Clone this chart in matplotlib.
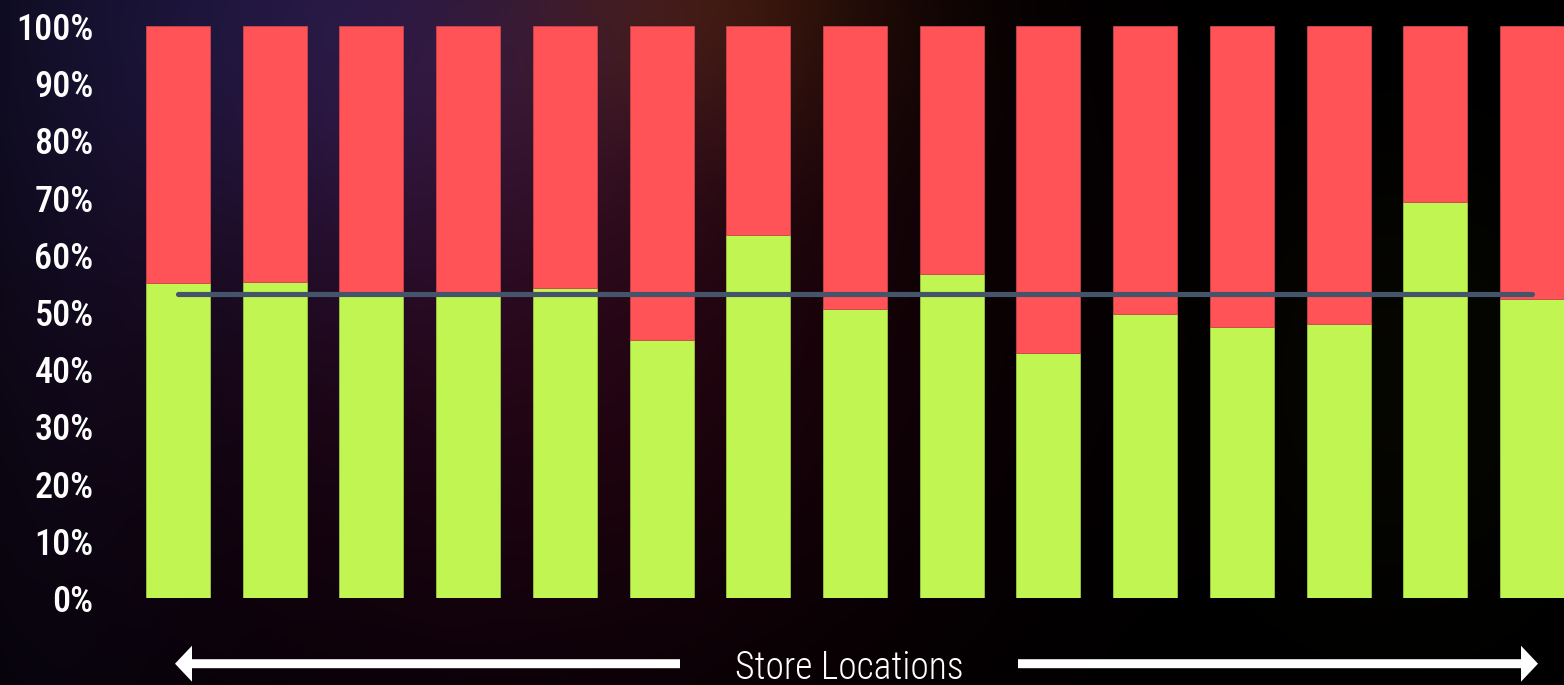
import numpy as np
import matplotlib
matplotlib.use("Agg")
import matplotlib.pyplot as plt
from matplotlib import font_manager as fm
from matplotlib.patches import FancyArrow

# Share of each store location (percent), stacked to 100%
locations = [f"Store {i}" for i in range(1, 16)]
positive = [55.1, 55.3, 53.2, 53.1, 54.2, 45.1, 63.4, 50.6, 56.7, 42.9, 49.7, 47.3, 47.9, 69.3, 52.2]
negative = [100 - v for v in positive]
average = 53.1
y_ticks = [0, 10, 20, 30, 40, 50, 60, 70, 80, 90, 100]
y_tick_labels = [f"{t}%" for t in y_ticks]
axis_title = "Store Locations"

GREEN = "#C1F551"
RED = "#FF5358"
LINE = "#44546A"


def narrow_font(size, weights=(400,)):
    """Pick an installed condensed sans face (first matching weight), else DejaVu Sans."""
    prefs = ["Liberation Sans Narrow", "Roboto Condensed", "Open Sans Condensed",
             "DejaVu Sans Condensed", "Noto Sans Condensed", "Lato Condensed"]
    pool = []
    for f in fm.fontManager.ttflist:
        w = f.weight if isinstance(f.weight, int) else 400
        if f.style != "normal" or w not in weights:
            continue
        if "Narrow" in f.name or "Condensed" in f.name or f.stretch in ("condensed", "semi-condensed"):
            pool.append((f, w))

    def rank(item):
        f, w = item
        r = 50
        for i, p in enumerate(prefs):
            if f.name == p:
                r = i
        if f.name == "DejaVu Sans":
            r = 3
        return (r, weights.index(w))

    pool.sort(key=rank)
    if pool:
        return fm.FontProperties(fname=pool[0][0].fname, size=size), True
    return fm.FontProperties(family="DejaVu Sans", size=size), False


W, H = 1564, 685
fig = plt.figure(figsize=(W / 100, H / 100), dpi=100)

# ---- dark glowing backdrop ----
bg = fig.add_axes([0, 0, 1, 1], zorder=0)
yy, xx = np.mgrid[0:H, 0:W].astype(float)


def blob(cx, cy, sx, sy, rgb):
    g = np.exp(-(((xx - cx) / sx) ** 2 + ((yy - cy) / sy) ** 2) / 2)
    return g[..., None] * np.array(rgb)[None, None, :]


img = np.zeros((H, W, 3))
img += blob(280, -20, 220, 220, (0.07, 0.07, 0.19))
img += blob(430, 60, 180, 180, (0.05, 0.03, 0.08))
img += blob(700, -10, 140, 120, (0.17, 0.08, 0.01))
img += blob(620, 280, 260, 250, (0.11, 0.01, 0.03))
img += blob(350, 460, 300, 280, (0.04, 0.005, 0.04))
img += blob(1400, 380, 120, 150, (0.025, 0.025, 0.0))
img += blob(40, 300, 100, 400, (0.02, 0.02, 0.05))
img = np.clip(img, 0, 1)
bg.imshow(img, extent=(0, W, H, 0), aspect="auto", interpolation="bilinear")
bg.set_xlim(0, W)
bg.set_ylim(H, 0)
bg.axis("off")

# ---- stacked bars ----
left_px, bottom_px, top_px = 120, 598, 26
ax = fig.add_axes([left_px / W, (H - bottom_px) / H, 1 - left_px / W, (bottom_px - top_px) / H], zorder=1)
ax.patch.set_alpha(0)
x = np.arange(len(locations))
ax.bar(x, positive, width=0.662, color=GREEN, edgecolor="#9CC844", linewidth=0.6)
ax.bar(x, negative, width=0.662, bottom=positive, color=RED, edgecolor="#C8464A", linewidth=0.6)
ax.plot([x[0], x[-1]], [average, average], color=LINE, linewidth=3.7, solid_capstyle="round")

step = 96.71
xmin = -(178 - left_px) / step
ax.set_xlim(xmin, xmin + (W - left_px) / step)
ax.set_ylim(0, 100)

tick_fp, condensed = narrow_font(26, weights=(500, 600, 700, 400))
if not condensed:
    tick_fp.set_size(19)
ax.set_yticks(y_ticks)
ax.set_yticklabels(y_tick_labels, fontproperties=tick_fp, color="white")
ax.tick_params(axis="y", length=0, pad=19)
ax.set_xticks([])
for s in ax.spines.values():
    s.set_visible(False)

# ---- axis caption with arrows ----
ov = fig.add_axes([0, 0, 1, 1], zorder=2)
ov.set_xlim(0, W)
ov.set_ylim(H, 0)
ov.axis("off")
ov.patch.set_alpha(0)
ay = 663.7
ov.add_patch(FancyArrow(680, ay, 175 - 680, 0, width=9, head_width=36, head_length=17,
                        length_includes_head=True, color="white", lw=0))
ov.add_patch(FancyArrow(1018, ay, 1538 - 1018, 0, width=9, head_width=36, head_length=17,
                        length_includes_head=True, color="white", lw=0))
cap_fp, _ = narrow_font(27, weights=(300, 400))
if not condensed:
    cap_fp.set_size(21)
ov.text(849, 668, axis_title, fontproperties=cap_fp, color="white", ha="center", va="center")

fig.savefig("out.png", dpi=100)
